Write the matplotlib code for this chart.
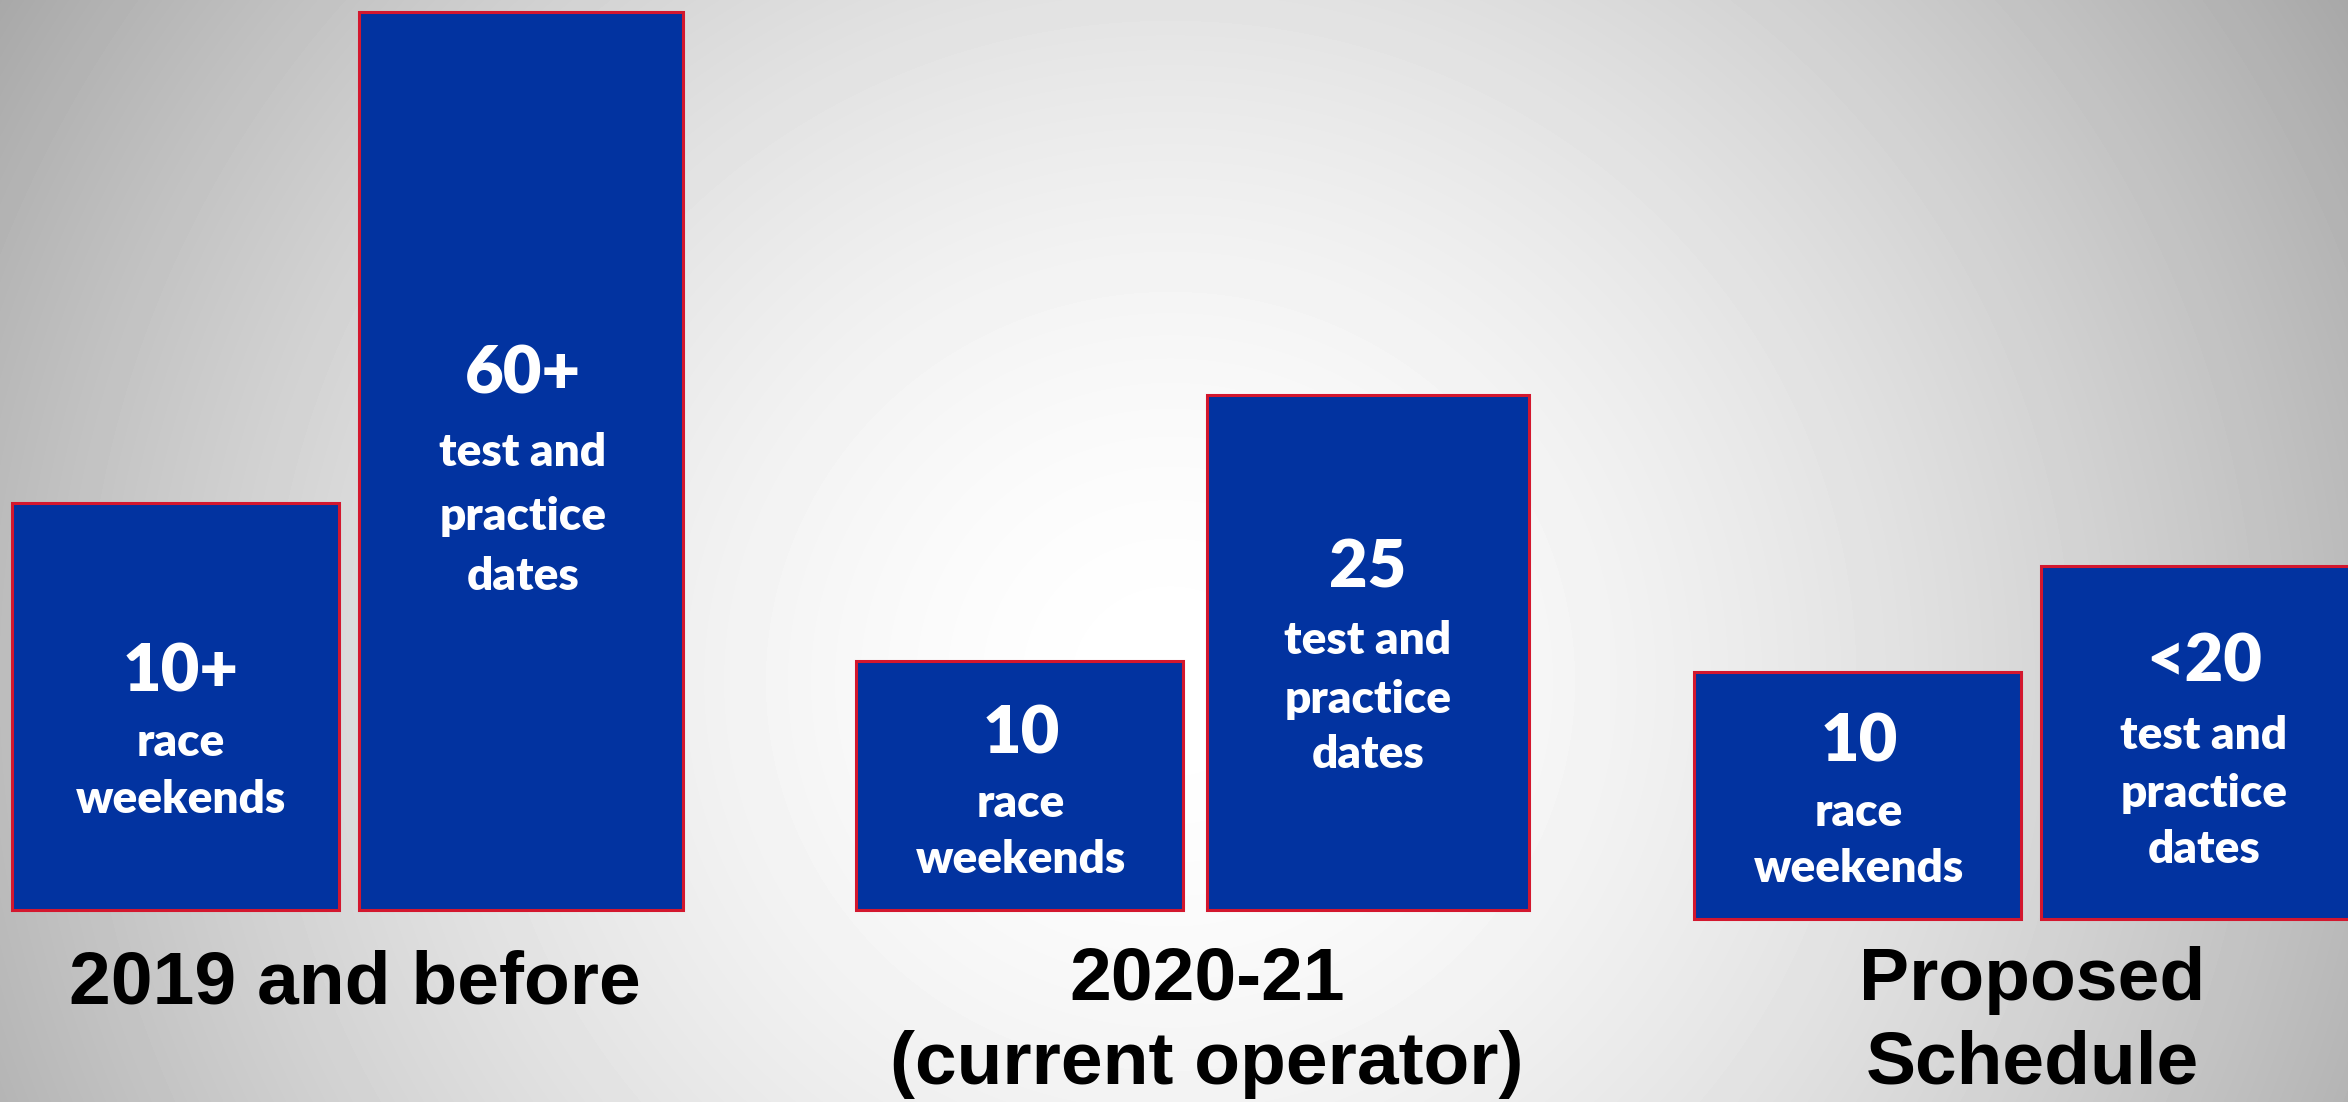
import numpy as np
import matplotlib.pyplot as plt

# chart content
groups = ['2019 and before', '2020-21\n(current operator)', 'Proposed\nSchedule']
bar_numbers = ['10+', '60+', '10', '25', '10', '<20']
bar_captions = ['race\nweekends', 'test and\npractice\ndates',
                'race\nweekends', 'test and\npractice\ndates',
                'race\nweekends', 'test and\npractice\ndates']
# bar lengths as drawn on the slide (pixels)
bar_heights = [407, 898, 249, 515, 247, 353]

W, H = 2348, 1102
fig = plt.figure(figsize=(W / 100, H / 100), dpi=100)
ax = fig.add_axes([0, 0, 1, 1])
ax.axis('off')

# radial grey background, white in the middle
xx, yy = np.meshgrid(np.arange(W), np.arange(H))
r = np.sqrt(((xx - 1170) / 1350.0) ** 2 + ((yy - 420) / 1300.0) ** 2)
shade = 1 - (85 / 255.0) * np.clip(r, 0, 1.2) ** 1.7
ax.imshow(shade, cmap='gray', vmin=0, vmax=1, extent=[0, W, H, 0],
          aspect='auto', zorder=0, interpolation='bilinear')
ax.set_xlim(0, W)
ax.set_ylim(0, H)

bar_x = [175, 521, 1019, 1368, 1857, 2202]
bar_w = [327, 324, 327, 322, 327, 322]
bottoms = [192, 192, 192, 192, 183, 183]
ax.bar(bar_x, bar_heights, width=bar_w, bottom=bottoms, color='#0233a0',
       edgecolor='#d3172e', linewidth=2.2, zorder=2)

# text baselines inside each box (pixels from the top)
num_base = [692, 393, 753, 587, 761, 682]
text_dx = [6, 2, 2, 0, 2, 2]
line_off = [(64, 121), (73, 137, 197), (64, 120),
            (67, 126, 181), (65, 121), (67, 125, 181)]
for i in range(len(bar_x)):
    tx = bar_x[i] + text_dx[i]
    ax.text(tx, H - num_base[i], bar_numbers[i], ha='center', va='baseline',
            color='white', fontsize=48, fontweight='heavy', family='Lato', zorder=3)
    for j, line in enumerate(bar_captions[i].split('\n')):
        ax.text(tx, H - num_base[i] - line_off[i][j], line, ha='center',
                va='baseline', color='white', fontsize=33, fontweight='heavy',
                family='Lato', zorder=3)

# group labels
label_x = [355, 1207, 2032]
label_base = [1003, 1000, 1000]
for k, g in enumerate(groups):
    for j, line in enumerate(g.split('\n')):
        ax.text(label_x[k], H - label_base[k] - 84 * j, line, ha='center',
                va='baseline', color='black', fontsize=54, fontweight='bold',
                family='Liberation Sans', zorder=3)

fig.savefig('out.png', dpi=100)
